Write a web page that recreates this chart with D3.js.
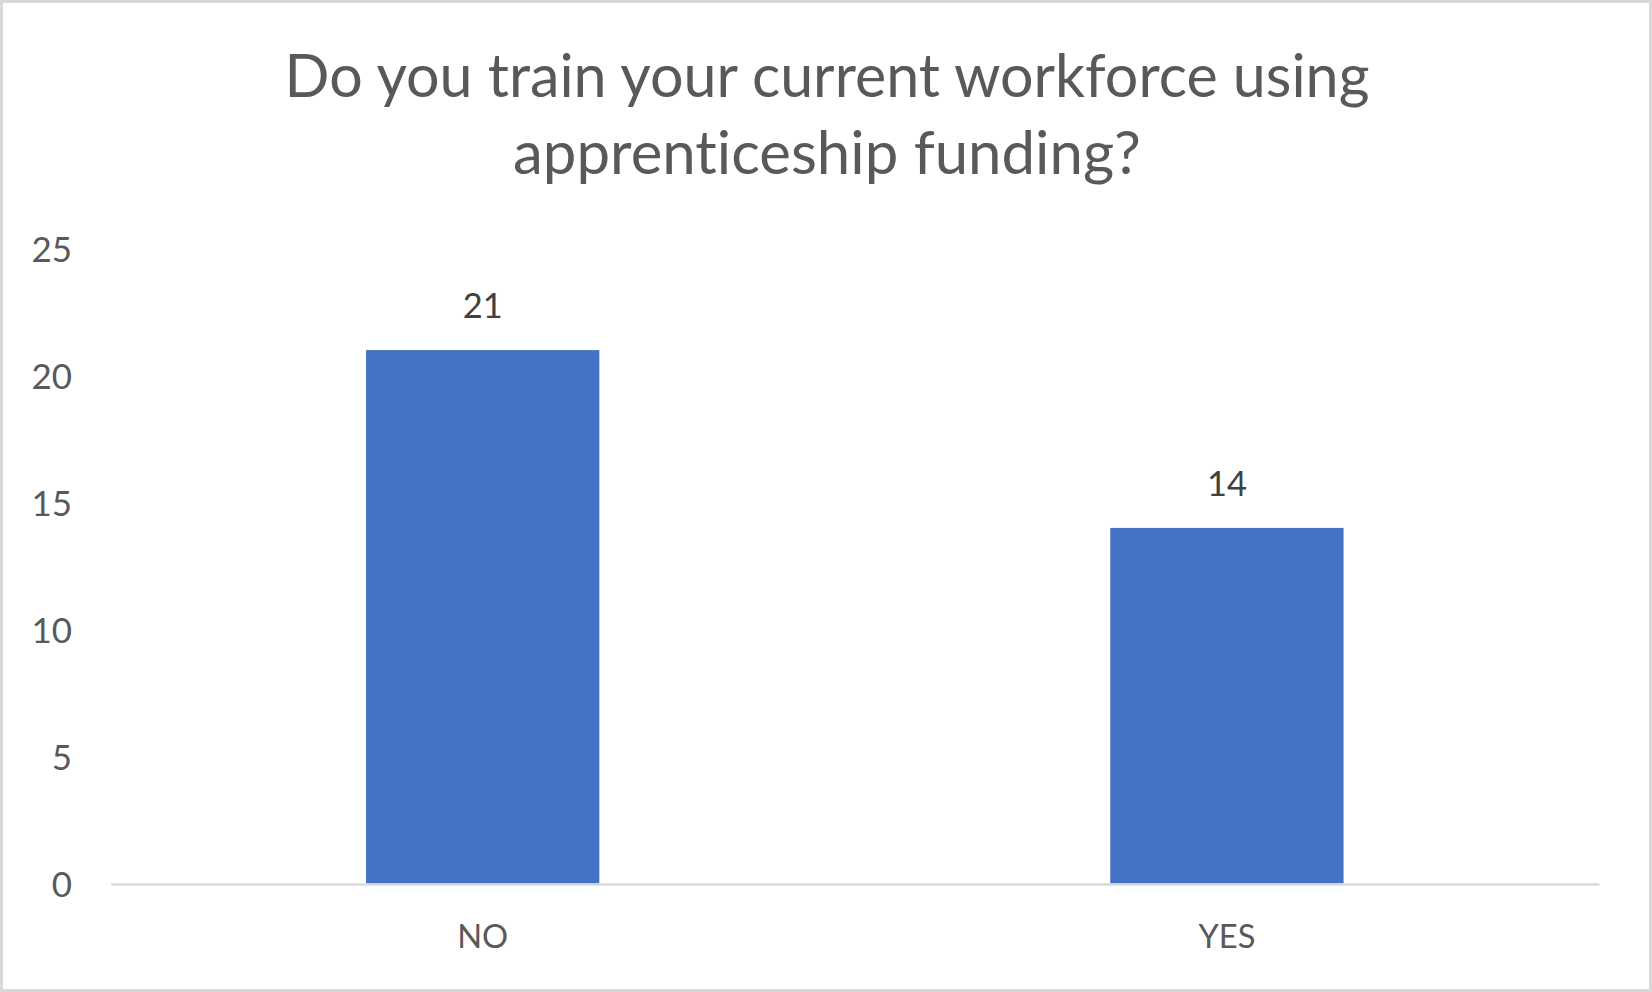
<!DOCTYPE html>
<html>
<head>
<meta charset="utf-8">
<script src="https://cdn.jsdelivr.net/npm/d3@7/dist/d3.min.js"></script>
<style>
  html, body { margin: 0; padding: 0; background: #ffffff; }
  svg { display: block; }
  text { font-variant-ligatures: none; font-feature-settings: "liga" 0, "clig" 0; }
</style>
</head>
<body>
<svg id="chart" width="1652" height="992"></svg>
<script>
const categories = ["NO", "YES"];
const values = [21, 14];
const yTicks = [0, 5, 10, 15, 20, 25];
const titleLines = ["Do you train your current workforce using", "apprenticeship funding?"];

const W = 1652, H = 992;
const FONT = "Lato, 'Open Sans', sans-serif";
const svg = d3.select("#chart");

svg.append("rect")
  .attr("x", 1.5).attr("y", 1.5)
  .attr("width", W - 3).attr("height", H - 3)
  .attr("fill", "#ffffff")
  .attr("stroke", "#d9d9d9").attr("stroke-width", 3);

const x = d3.scaleBand()
  .domain(categories)
  .range([110.6, 1599])
  .paddingInner(0.6865)
  .paddingOuter(0.34325);

const y = d3.scaleLinear().domain([0, 25]).range([883.5, 248.5]);

// fit a text selection's font-size so the first node's width equals target
function fitSize(sel, target) {
  sel.style("font-size", "100px");
  const w = sel.node().getComputedTextLength();
  const fs = 100 * target / w;
  sel.style("font-size", fs + "px");
  return fs;
}

// Title
const title = svg.append("g")
  .attr("font-family", FONT)
  .attr("fill", "#595959")
  .attr("text-anchor", "middle");
const t1 = title.append("text").attr("x", 827).attr("y", 97).text(titleLines[0]);
fitSize(t1, 1085);
const t2 = title.append("text").attr("x", 827).attr("y", 174).text(titleLines[1]);
fitSize(t2, 628);

// Bars
svg.append("g").selectAll("rect")
  .data(values)
  .join("rect")
  .attr("x", (d, i) => x(categories[i]))
  .attr("width", x.bandwidth())
  .attr("y", d => y(d))
  .attr("height", d => y(0) - y(d))
  .attr("fill", "#4472C4");

// Y axis labels
const yAxis = svg.append("g")
  .attr("transform", "translate(72,0)")
  .call(d3.axisLeft(y).tickValues(yTicks).tickSize(0).tickPadding(0));
yAxis.select(".domain").remove();
const yText = yAxis.selectAll("text")
  .attr("font-family", FONT)
  .attr("fill", "#595959")
  .attr("dy", null)
  .attr("y", 13);
const t25 = yText.filter(d => d === 25);
t25.style("font-size", "100px");
const fsTick = 100 * 40.5 / t25.node().getComputedTextLength();
yText.style("font-size", fsTick + "px");

// X axis line and labels
const xAxis = svg.append("g")
  .attr("transform", "translate(0,884)")
  .call(d3.axisBottom(x).tickSize(0).tickSizeOuter(0).tickPadding(0));
xAxis.select(".domain").attr("stroke", "#d9d9d9").attr("stroke-width", 2.5);
const xText = xAxis.selectAll("text")
  .attr("font-family", FONT)
  .attr("fill", "#595959")
  .attr("dy", null)
  .attr("y", 64);
const tNO = xText.filter(d => d === "NO");
tNO.style("font-size", "100px");
const fsCat = 100 * 51 / tNO.node().getComputedTextLength();
xText.style("font-size", fsCat + "px");

// Data labels
const labels = svg.append("g").selectAll("text")
  .data(values)
  .join("text")
  .attr("font-family", FONT)
  .attr("fill", "#404040")
  .attr("text-anchor", "middle")
  .attr("x", (d, i) => x(categories[i]) + x.bandwidth() / 2)
  .attr("y", d => y(d) - 32)
  .text(d => d);
const l21 = labels.filter(d => d === 21);
l21.style("font-size", "100px");
const fsLab = 100 * 40 / l21.node().getComputedTextLength();
labels.style("font-size", fsLab + "px");
</script>
</body>
</html>
